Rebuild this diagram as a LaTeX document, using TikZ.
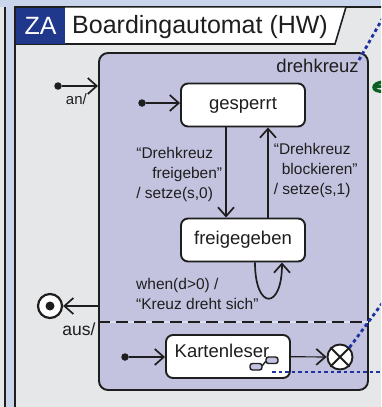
\documentclass[tikz,border=0pt]{standalone}
\usepackage{fontspec}
\setmainfont{Liberation Sans}
\usetikzlibrary{arrows.meta,positioning,calc}
\definecolor{ZAbg}{RGB}{201,213,235}
\definecolor{ZApanel}{RGB}{230,231,233}
\definecolor{ZAlila}{RGB}{195,195,224}
\definecolor{ZAblue}{RGB}{32,56,140}
\definecolor{ZAdot}{RGB}{30,50,160}
\definecolor{ZAgreen}{RGB}{10,95,35}
\definecolor{ZAink}{RGB}{30,30,30}
\tikzstyle{zstate} = [rectangle, rounded corners=7pt, draw=ZAink, line width=1.9pt,
                      fill=white, minimum width=124pt, minimum height=43pt,
                      inner sep=0pt, text=ZAink, font=\fontsize{18.5}{20}\selectfont]
\tikzstyle{zinit}  = [circle, fill=ZAink, inner sep=0pt, minimum size=7.5pt]
\tikzstyle{zlabel} = [font=\fontsize{15.5}{20}\selectfont, text=ZAink, inner sep=2pt]
\tikzstyle{zflow}  = [draw=ZAink, line width=1.7pt,
                      -{Straight Barb[length=9pt,width=16pt,line width=1.7pt]}]
\tikzstyle{zlink}  = [draw=ZAdot, line width=2.8pt, dash pattern=on 3.5pt off 3pt]

\begin{document}
\begin{tikzpicture}[x=1pt, y=-1pt]
  \useasboundingbox (0,0) rectangle (381,407);
  \clip (0,0) rectangle (381,407);
  \fill[ZAbg] (0,0) rectangle (381,407);
  % panels
  \fill[ZApanel] (-10,7) rectangle (5,420);
  \draw[ZAink, line width=1.6pt] (5,7) -- (5,420);
  \draw[ZAink, line width=1.8pt, fill=ZApanel] (15,7) rectangle (400,420);
  % title tab
  \fill[white] (65,7.6) -- (346,7.6) -- (335,44) -- (65,44) -- cycle;
  \draw[ZAink, line width=1.6pt] (15,44) -- (335,44) -- (346,7);
  \node[fill=ZAblue, text=white, anchor=north west, minimum width=49pt, minimum height=36pt,
        inner sep=0pt, font=\fontsize{25}{25}\selectfont] (za) at (15.9,7.9) {ZA};
  \node[anchor=base west, inner sep=0pt, text=ZAink,
        font=\fontsize{25}{25}\selectfont] (title) at (72,33) {Boardingautomat (HW)};

  % composite state
  \node[draw=ZAink, line width=1.9pt, fill=ZAlila, rounded corners=9pt,
        minimum width=269pt, minimum height=337pt, inner sep=0pt] (dk) at (233.5,221.5) {};
  \node[anchor=north east, inner sep=0pt, text=ZAink, font=\fontsize{18.5}{20}\selectfont]
        (dkname) at ([xshift=-10pt,yshift=-7pt]dk.north east) {drehkreuz};
  \coordinate (cut) at (0,322);
  \draw[ZAbg!70!white, line width=2pt] (dk.west |- cut) -- (dk.east |- cut);
  \draw[ZAink, line width=2pt, dash pattern=on 12pt off 6pt] (dk.west |- cut) -- (dk.east |- cut);

  % upper region
  \node[zstate] (gesp) at (243,105) {gesperrt};
  \node[zstate] (frei) at (243,240) {freigegeben};
  \node[zinit]  (init2) at (142,103) {};
  \draw[zflow] (init2) -- (init2 -| gesp.west);
  \draw[zflow] ([xshift=-17pt]gesp.south) -- ([xshift=-17pt]frei.north)
    node[midway, left, zlabel, align=left, xshift=-1pt, yshift=-2pt]
    {“Drehkreuz\\\hspace*{16pt}freigeben”\\/ setze(s,0)};
  \draw[zflow] ([xshift=25pt]frei.north) -- ([xshift=25pt]gesp.south)
    node[midway, right, zlabel, align=left, xshift=3pt, yshift=2pt]
    {“Drehkreuz\\\hspace*{8pt}blockieren”\\/ setze(s,1)};
  \draw[zflow] ([xshift=12pt]frei.south) .. controls +(0,48) and +(0,48) .. ([xshift=39pt]frei.south);
  \node[zlabel, align=left, anchor=west] (whenlbl) at (134,294)
    {when(d>0) /\\“Kreuz dreht sich”};

  % lower region
  \node[zstate] (karte) at (228,356.5) {};
  \node[inner sep=0pt, text=ZAink, font=\fontsize{18.5}{20}\selectfont]
        (kartetxt) at ([xshift=-6pt,yshift=6pt]karte.center) {Kartenleser};
  \draw[ZAink, line width=1.4pt, fill=ZAlila, rounded corners=2.5pt] (250,363.5) rectangle (262,370);
  \draw[ZAink, line width=1.4pt, fill=ZAlila, rounded corners=2.5pt] (266,357) rectangle (278,363.5);
  \draw[ZAink, line width=1.4pt] (262,366) -- (266,361);
  \node[zinit] (init3) at (125,357) {};
  \draw[zflow] (init3) -- (init3 -| karte.west);
  \node[circle, draw=ZAink, line width=1.9pt, fill=white, minimum size=25pt, inner sep=0pt]
        (xend) at (340,357) {};
  \draw[ZAink, line width=1.9pt] (xend.north east) -- (xend.south west)
                                 (xend.north west) -- (xend.south east);
  \draw[zflow, line width=1.2pt] (karte) -- (xend);

  % entry and exit
  \node[zinit] (init1) at (58,86) {};
  \draw[zflow] (init1) -- (init1 -| dk.west)
    node[pos=0.4, below=5pt, zlabel, font=\fontsize{15}{20}\selectfont] {an/};
  \node[circle, draw=ZAink, line width=2.2pt, fill=white, minimum size=24pt, inner sep=0pt]
        (fin) at (50,306) {};
  \node[zinit, minimum size=9pt] (findot) at (fin) {};
  \draw[zflow] (fin -| dk.west) -- (fin);
  \node[zlabel, font=\fontsize{17.5}{20}\selectfont] (aus) at (79,329) {aus/};

  % links leaving the picture
  \coordinate (linkA) at (392,290);
  \coordinate (linkB0) at (272,372);
  \coordinate (linkB) at (392,372);
  \coordinate (linkC) at (385,14);
  \draw[zlink] (xend.north east) -- (linkA);
  \draw[zlink] (linkB0) -- (linkB);
  \draw[zlink] ([xshift=-10pt,yshift=-8pt]dk.north east) -- (linkC);
  \draw[ZAgreen, line width=3.2pt] (384,82) .. controls (371,82) and (370,93) .. (384,91)
                                   (374,87) -- (384,86);
\end{tikzpicture}
\end{document}
